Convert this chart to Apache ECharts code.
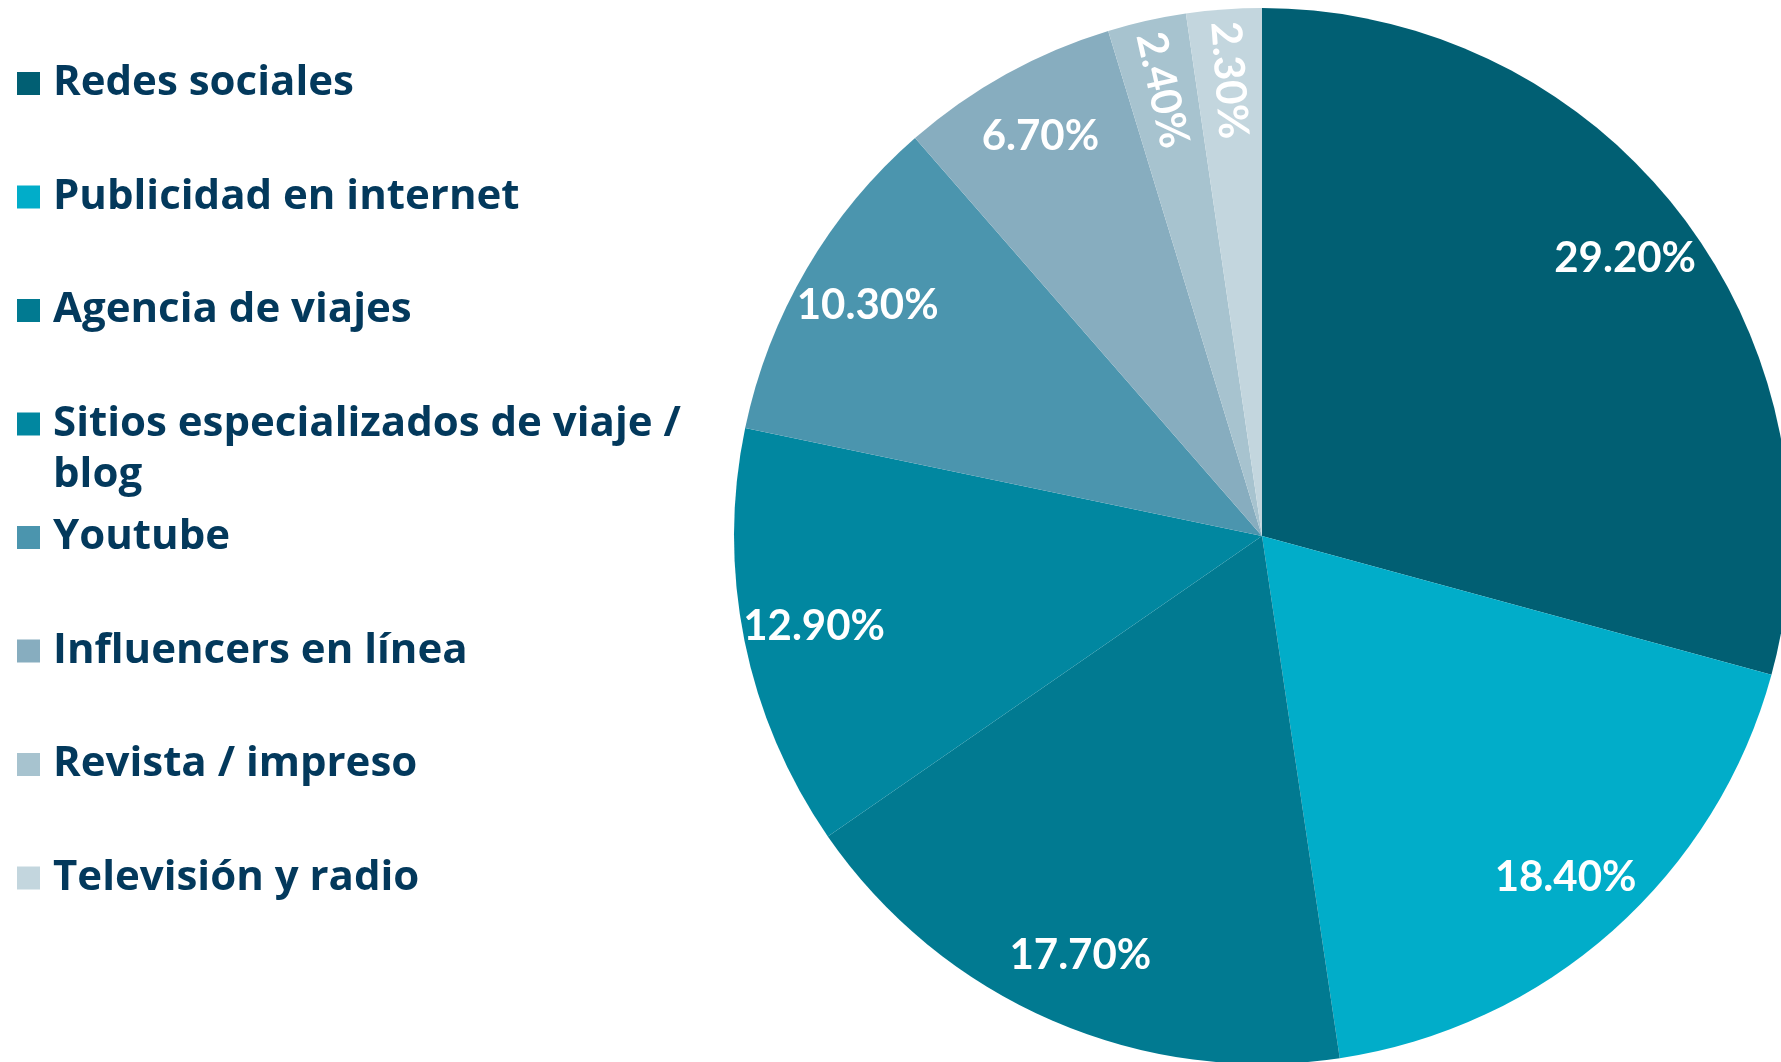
<!DOCTYPE html>
<html>
<head>
<meta charset="utf-8">
<title>Medios</title>
<script src="https://cdn.jsdelivr.net/npm/echarts@6/dist/echarts.min.js"></script>
<style>
    html, body { margin: 0; padding: 0; background: #fff; }
    #pieChart1 { width: 1781px; height: 1062px; }
</style>
</head>
<body>
<div id="pieChart1"></div>
<script>
// datos del grafico
var categories = ['Redes sociales', 'Publicidad en internet', 'Agencia de viajes', 'Sitios especializados de viaje / blog',
    'Youtube', 'Influencers en línea', 'Revista / impreso', 'Televisión y radio'];
var values = [29.2, 18.4, 17.7, 12.9, 10.3, 6.7, 2.4, 2.3];
var colors = ['#015f73', '#01adc9', '#017a91', '#0187a0', '#4b95ae', '#87adbf', '#a7c3cf', '#c3d6de'];
// rebanadas pequeñas con etiqueta girada
var rotated = ['Revista / impreso', 'Televisión y radio'];

var R = 528;
var center = [1262, 536];

var myChart = echarts.init(document.getElementById('pieChart1'));

var pieData = [];
var labelData = [];
values.forEach(function (v, i) {
    pieData.push({ value: v, name: categories[i] });
    labelData.push({
        value: v,
        name: categories[i],
        label: { rotate: rotated.indexOf(categories[i]) >= 0 ? 'radial' : 0 }
    });
});

var option = {
    backgroundColor: '#fff',
    animation: false,
    color: colors,
    legend: {
        orient: 'vertical',
        left: 17,
        top: 7,
        padding: 0,
        icon: 'rect',
        itemWidth: 23,
        itemHeight: 23,
        itemGap: -39.5,
        selectedMode: false,
        data: categories,
        // cada item ocupa 3 lineas para que "blog" quede debajo sin mover el resto
        formatter: function (name) {
            if (name.indexOf('Sitios') === 0) {
                return '\nSitios especializados de viaje /\nblog';
            }
            return '\n' + name + '\n';
        },
        textStyle: {
            color: '#03395c',
            fontFamily: 'Open Sans',
            fontWeight: 'bold',
            fontSize: 42,
            lineHeight: 51,
            padding: [0, 0, 0, 8]
        }
    },
    series: [{
        type: 'pie',
        center: center,
        radius: R,
        startAngle: 90,
        clockwise: true,
        silent: true,
        label: { show: false },
        labelLine: { show: false },
        itemStyle: { borderWidth: 0 },
        data: pieData
    }, {
        // anillo transparente solo para ubicar las etiquetas cerca del borde
        type: 'pie',
        center: center,
        radius: [380, R],
        startAngle: 90,
        clockwise: true,
        silent: true,
        avoidLabelOverlap: false,
        itemStyle: { color: 'rgba(0,0,0,0)', borderWidth: 0 },
        label: {
            show: true,
            position: 'inside',
            color: '#fff',
            fontFamily: 'Lato',
            fontWeight: 'bold',
            fontSize: 42,
            formatter: function (p) {
                return p.value.toFixed(2) + '%';
            }
        },
        labelLine: { show: false },
        data: labelData
    }]
};
myChart.setOption(option);
</script>
</body>
</html>
